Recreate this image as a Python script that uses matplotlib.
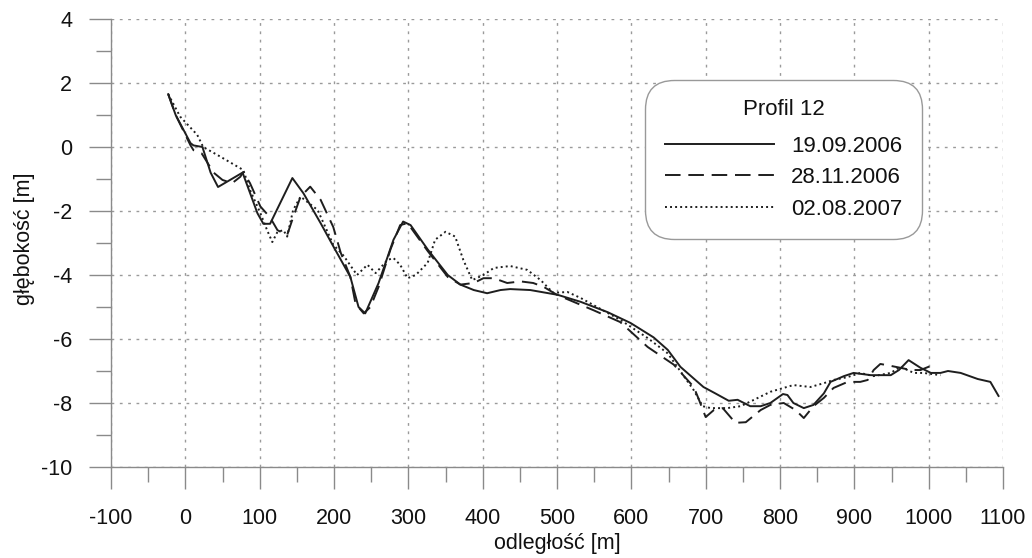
import matplotlib
matplotlib.use("Agg")
import matplotlib.pyplot as plt
from matplotlib.ticker import MultipleLocator

plt.rcParams["axes.unicode_minus"] = False

# ---- data ----
x_0609 = [-23, -13, 7, 11, 23, 34, 44, 77, 97, 105, 114, 144, 159, 182, 199, 222, 233, 242,
          260, 280, 293, 303, 326, 353, 370, 388, 406, 424, 437, 464, 501, 532, 568, 599,
          630, 649, 666, 697, 713, 731, 743, 760, 774, 787, 804, 810, 818, 832, 845, 859,
          868, 886, 899, 922, 949, 960, 973, 989, 1003, 1016, 1026, 1043, 1066, 1083, 1094]
y_0609 = [1.65, 1.0, 0.12, 0.05, 0.0, -0.8, -1.25, -0.8, -2.07, -2.4, -2.4, -0.97, -1.45,
          -2.38, -3.1, -4.06, -5.0, -5.2, -4.25, -2.9, -2.33, -2.44, -3.2, -4.0, -4.3, -4.47,
          -4.57, -4.47, -4.44, -4.47, -4.62, -4.84, -5.16, -5.5, -5.95, -6.34, -6.87, -7.5,
          -7.7, -7.93, -7.9, -8.1, -8.1, -8.0, -7.72, -7.75, -8.0, -8.16, -8.06, -7.7,
          -7.34, -7.16, -7.06, -7.13, -7.13, -6.97, -6.66, -6.9, -7.06, -7.06, -7.0,
          -7.06, -7.25, -7.34, -7.78]

x_2811 = [-23, -13, 7, 11, 22, 38, 50, 63, 74, 78, 87, 101, 114, 124, 137, 145, 155, 168,
          182, 199, 209, 222, 229, 240, 249, 260, 276, 289, 299, 326, 353, 370, 388, 401,
          415, 433, 451, 468, 482, 500, 549, 585, 622, 657, 684, 690, 700, 711, 723, 740,
          754, 774, 787, 805, 821, 832, 845, 859, 872, 891, 908, 918, 926, 935, 949, 962,
          976, 989, 1003]
y_2811 = [1.65, 1.0, 0.05, -0.1, -0.2, -0.8, -1.03, -1.13, -0.93, -0.78, -1.13, -1.86,
          -2.2, -2.6, -2.75, -2.2, -1.55, -1.24, -1.65, -2.5, -3.3, -4.06, -4.9, -5.2, -5.0,
          -4.37, -3.2, -2.44, -2.38, -3.25, -4.06, -4.3, -4.25, -4.1, -4.1, -4.25, -4.2,
          -4.25, -4.37, -4.62, -5.1, -5.47, -6.25, -6.8, -7.5, -7.84, -8.44, -8.22, -8.16,
          -8.62, -8.6, -8.22, -8.06, -8.0, -8.22, -8.47, -8.1, -7.84, -7.53, -7.34, -7.34,
          -7.28, -6.97, -6.78, -6.84, -6.9, -6.97, -6.97, -6.84]

x_0208 = [-23, -7, 16, 24, 47, 78, 87, 101, 110, 117, 124, 132, 137, 145, 155, 178, 199,
          213, 231, 245, 256, 272, 280, 289, 299, 310, 326, 336, 350, 363, 374, 386, 401,
          415, 437, 460, 478, 495, 514, 532, 585, 622, 649, 684, 696, 707, 729, 747, 765,
          787, 818, 841, 859, 872, 891, 908, 926, 949, 962, 980, 993, 1016]
y_0208 = [1.65, 0.95, 0.38, 0.0, -0.3, -0.72, -1.34, -2.07, -2.6, -2.97, -2.65, -2.6,
          -2.8, -1.97, -1.55, -1.97, -3.05, -3.4, -4.0, -3.68, -3.94, -3.53, -3.47, -3.68,
          -4.1, -4.0, -3.62, -2.9, -2.65, -2.8, -3.53, -4.16, -4.0, -3.78, -3.72, -3.84,
          -4.16, -4.56, -4.53, -4.72, -5.4, -5.97, -6.45, -7.6, -8.1, -8.16, -8.16, -8.1,
          -7.9, -7.65, -7.44, -7.5, -7.38, -7.28, -7.19, -7.06, -7.16, -7.06, -6.87, -7.06,
          -7.06, -7.13]

labels = ["19.09.2006", "28.11.2006", "02.08.2007"]
legend_title = "Profil 12"
xlabel = "odległość [m]"
ylabel = "głębokość [m]"

# ---- figure ----
fam = ["Liberation Sans", "DejaVu Sans"]
plt.rcParams["font.family"] = fam

fig = plt.figure(figsize=(10.32, 5.58), dpi=100)
ax = fig.add_axes([111 / 1032, 91 / 558, 892 / 1032, 448 / 558])

lc = "#1e1e1e"
ax.plot(x_0609, y_0609, color=lc, lw=1.4, ls="-", label=labels[0], zorder=3)
ax.plot(x_2811, y_2811, color=lc, lw=1.4, ls=(0, (8, 4)), label=labels[1], zorder=3)
ax.plot(x_0208, y_0208, color=lc, lw=1.4, ls=(0, (1, 1.6)), label=labels[2], zorder=3)

ax.set_xlim(-100, 1100)
ax.set_ylim(-10, 4)
ax.xaxis.set_major_locator(MultipleLocator(100))
ax.xaxis.set_minor_locator(MultipleLocator(50))
ax.yaxis.set_major_locator(MultipleLocator(2))
ax.yaxis.set_minor_locator(MultipleLocator(1))

gc = "#9a9a9a"
ax.grid(True, which="major", color=gc, ls=(0, (2, 4)), lw=1.0)
for s in ["top", "right"]:
    ax.spines[s].set_visible(False)
for s in ["left", "bottom"]:
    ax.spines[s].set_color("#8a8a8a")
    ax.spines[s].set_linewidth(1.0)

tc = "#8a8a8a"
ax.tick_params(axis="both", which="major", direction="out", length=16, width=1, color=tc,
               labelsize=15.5, labelcolor="#111111")
ax.tick_params(axis="both", which="minor", direction="out", length=11, width=1, color=tc)
ax.tick_params(axis="x", which="major", pad=13.5)
ax.tick_params(axis="y", which="major", pad=12)

ax.set_xlabel(xlabel, fontsize=15.5, color="#111111")
ax.set_ylabel(ylabel, fontsize=15.5, color="#111111")
ax.xaxis.set_label_coords(0.5, -0.148)
ax.yaxis.set_label_coords(-0.085, 0.51)

leg = ax.legend(loc="upper left", bbox_to_anchor=(0.599, 0.864), title=legend_title,
                fancybox=True, framealpha=1, edgecolor="#999999",
                prop={"size": 16}, title_fontproperties={"size": 16},
                handlelength=4.9, handletextpad=0.8, borderpad=0.87, labelspacing=0.48,
                borderaxespad=0)
leg.get_frame().set_linewidth(1.0)
leg.get_frame().set_boxstyle("round", pad=0, rounding_size=1.3)
leg.get_title().set_color("#111111")
for t in leg.get_texts():
    t.set_color("#111111")
leg._legend_box.sep = 11

fig.savefig("out.png", dpi=100)
